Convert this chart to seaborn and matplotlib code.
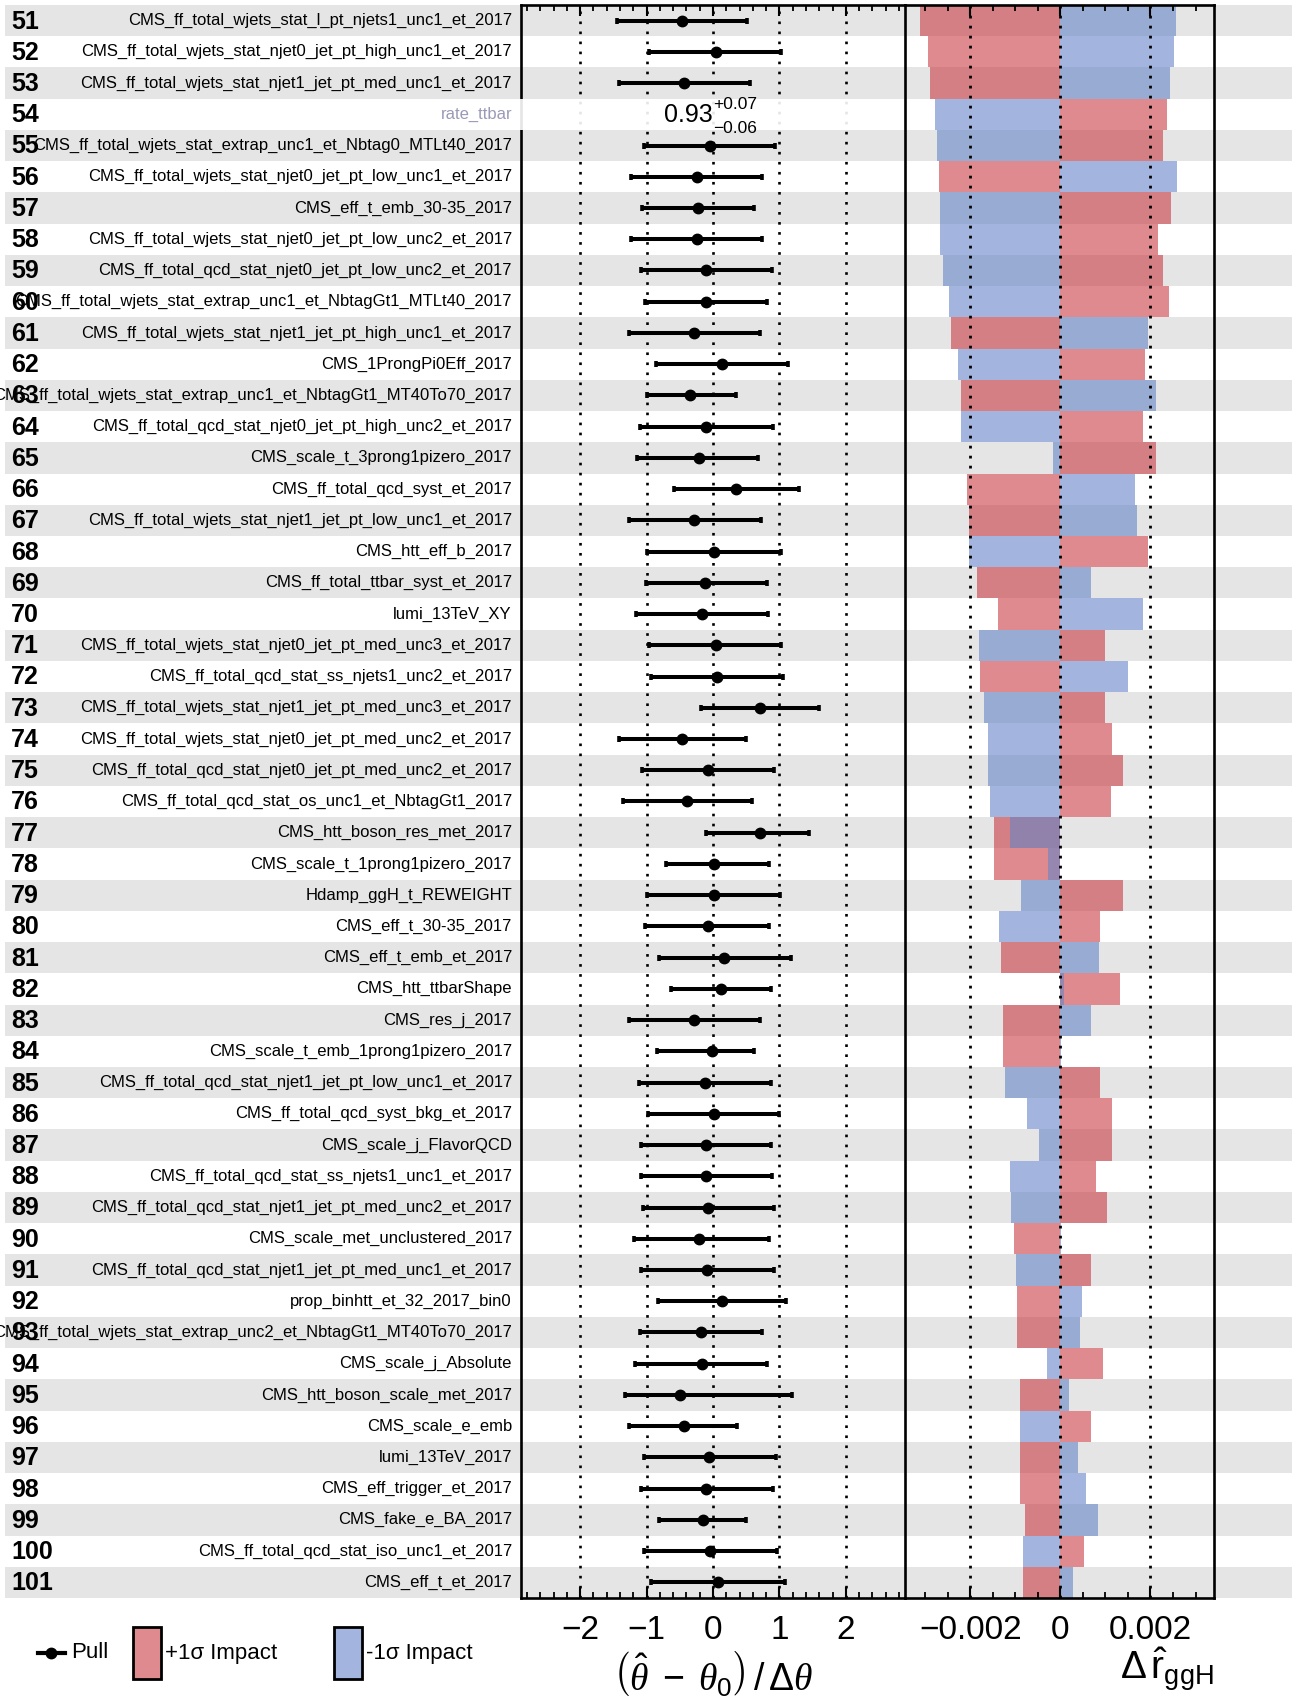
import numpy as np
import pandas as pd
import matplotlib
matplotlib.use("Agg")
import matplotlib.pyplot as plt
import seaborn as sns
from matplotlib.patches import Rectangle
from matplotlib.lines import Line2D
from matplotlib.ticker import MultipleLocator, FixedLocator, FixedFormatter

# ---------------- data ----------------
rank = list(range(51, 102))
params = [
    "CMS_ff_total_wjets_stat_l_pt_njets1_unc1_et_2017",
    "CMS_ff_total_wjets_stat_njet0_jet_pt_high_unc1_et_2017",
    "CMS_ff_total_wjets_stat_njet1_jet_pt_med_unc1_et_2017",
    "rate_ttbar",
    "CMS_ff_total_wjets_stat_extrap_unc1_et_Nbtag0_MTLt40_2017",
    "CMS_ff_total_wjets_stat_njet0_jet_pt_low_unc1_et_2017",
    "CMS_eff_t_emb_30-35_2017",
    "CMS_ff_total_wjets_stat_njet0_jet_pt_low_unc2_et_2017",
    "CMS_ff_total_qcd_stat_njet0_jet_pt_low_unc2_et_2017",
    "CMS_ff_total_wjets_stat_extrap_unc1_et_NbtagGt1_MTLt40_2017",
    "CMS_ff_total_wjets_stat_njet1_jet_pt_high_unc1_et_2017",
    "CMS_1ProngPi0Eff_2017",
    "CMS_ff_total_wjets_stat_extrap_unc1_et_NbtagGt1_MT40To70_2017",
    "CMS_ff_total_qcd_stat_njet0_jet_pt_high_unc2_et_2017",
    "CMS_scale_t_3prong1pizero_2017",
    "CMS_ff_total_qcd_syst_et_2017",
    "CMS_ff_total_wjets_stat_njet1_jet_pt_low_unc1_et_2017",
    "CMS_htt_eff_b_2017",
    "CMS_ff_total_ttbar_syst_et_2017",
    "lumi_13TeV_XY",
    "CMS_ff_total_wjets_stat_njet0_jet_pt_med_unc3_et_2017",
    "CMS_ff_total_qcd_stat_ss_njets1_unc2_et_2017",
    "CMS_ff_total_wjets_stat_njet1_jet_pt_med_unc3_et_2017",
    "CMS_ff_total_wjets_stat_njet0_jet_pt_med_unc2_et_2017",
    "CMS_ff_total_qcd_stat_njet0_jet_pt_med_unc2_et_2017",
    "CMS_ff_total_qcd_stat_os_unc1_et_NbtagGt1_2017",
    "CMS_htt_boson_res_met_2017",
    "CMS_scale_t_1prong1pizero_2017",
    "Hdamp_ggH_t_REWEIGHT",
    "CMS_eff_t_30-35_2017",
    "CMS_eff_t_emb_et_2017",
    "CMS_htt_ttbarShape",
    "CMS_res_j_2017",
    "CMS_scale_t_emb_1prong1pizero_2017",
    "CMS_ff_total_qcd_stat_njet1_jet_pt_low_unc1_et_2017",
    "CMS_ff_total_qcd_syst_bkg_et_2017",
    "CMS_scale_j_FlavorQCD",
    "CMS_ff_total_qcd_stat_ss_njets1_unc1_et_2017",
    "CMS_ff_total_qcd_stat_njet1_jet_pt_med_unc2_et_2017",
    "CMS_scale_met_unclustered_2017",
    "CMS_ff_total_qcd_stat_njet1_jet_pt_med_unc1_et_2017",
    "prop_binhtt_et_32_2017_bin0",
    "CMS_ff_total_wjets_stat_extrap_unc2_et_NbtagGt1_MT40To70_2017",
    "CMS_scale_j_Absolute",
    "CMS_htt_boson_scale_met_2017",
    "CMS_scale_e_emb",
    "lumi_13TeV_2017",
    "CMS_eff_trigger_et_2017",
    "CMS_fake_e_BA_2017",
    "CMS_ff_total_qcd_stat_iso_unc1_et_2017",
    "CMS_eff_t_et_2017",
]
pull = [-0.47, 0.04, -0.44, np.nan, -0.05, -0.24, -0.23, -0.24, -0.10, -0.10,
        -0.28, 0.13, -0.34, -0.10, -0.21, 0.34, -0.28, 0.02, -0.12, -0.16,
        0.04, 0.06, 0.71, -0.47, -0.07, -0.39, 0.71, 0.02, 0.01, -0.08,
        0.17, 0.12, -0.28, -0.02, -0.12, 0.01, -0.10, -0.10, -0.07, -0.21,
        -0.09, 0.13, -0.18, -0.16, -0.49, -0.44, -0.06, -0.10, -0.15, -0.05,
        0.08]
pull_err_lo = [0.97, 1.01, 0.97, np.nan, 0.99, 0.99, 0.84, 0.99, 0.99, 0.92,
               0.99, 0.99, 0.65, 1.00, 0.94, 0.92, 0.99, 1.02, 0.89, 1.00,
               1.01, 0.99, 0.89, 0.95, 1.00, 0.96, 0.82, 0.72, 1.01, 0.95,
               0.98, 0.75, 0.98, 0.83, 1.00, 0.99, 0.99, 0.99, 0.99, 0.98,
               0.99, 0.96, 0.92, 1.01, 0.83, 0.83, 0.98, 0.99, 0.66, 0.99,
               1.01]
pull_err_hi = [0.98, 0.99, 0.99, np.nan, 0.98, 0.98, 0.85, 0.98, 0.99, 0.91,
               0.98, 1.00, 0.68, 1.00, 0.88, 0.96, 1.00, 1.01, 0.94, 0.99,
               0.99, 0.99, 0.89, 0.97, 0.99, 0.97, 0.74, 0.82, 1.00, 0.93,
               1.00, 0.75, 0.99, 0.63, 0.99, 0.99, 0.98, 0.99, 0.99, 1.06,
               1.01, 0.97, 0.92, 0.98, 1.68, 0.80, 1.01, 1.01, 0.65, 1.01,
               1.01]
impact_up = [-0.00311, -0.00293, -0.00289, 0.00236, 0.00227, -0.00269, 0.00246, 0.00216, 0.00227, 0.00241,
             -0.00242, 0.00187, -0.00220, 0.00184, 0.00213, -0.00207, -0.00204, 0.00195, -0.00185, -0.00139,
             0.00099, -0.00179, 0.00100, 0.00115, 0.00139, 0.00113, -0.00148, -0.00148, 0.00139, 0.00089,
             -0.00132, 0.00133, -0.00128, -0.00128, 0.00087, 0.00114, 0.00114, 0.00078, 0.00103, -0.00103,
             0.00069, -0.00096, -0.00096, 0.00094, -0.00090, 0.00069, -0.00090, -0.00090, -0.00079, 0.00052,
             -0.00083]
impact_down = [0.00256, 0.00252, 0.00243, -0.00278, -0.00273, 0.00258, -0.00267, -0.00267, -0.00260, -0.00247,
               0.00195, -0.00227, 0.00213, -0.00220, -0.00016, 0.00165, 0.00169, -0.00202, 0.00067, 0.00184,
               -0.00181, 0.00149, -0.00170, -0.00161, -0.00161, -0.00157, -0.00112, -0.00027, -0.00088, -0.00137,
               0.00085, 0.00009, 0.00069, 0.00001, -0.00123, -0.00074, -0.00048, -0.00112, -0.00110, 0.00002,
               -0.00099, 0.00047, 0.00043, -0.00030, 0.00018, -0.00090, 0.00040, 0.00056, 0.00084, -0.00083,
               0.00029]
poi_row = "rate_ttbar"
poi_value, poi_up, poi_dn = "0.93", "+0.07", "\u22120.06"

pull_ticks = [-2, -1, 0, 1, 2]
pull_ticklabels = ["\u22122", "\u22121", "0", "1", "2"]
impact_ticks = [-0.002, 0.0, 0.002]
impact_ticklabels = ["\u22120.002", "0", "0.002"]

# ---------------- style ----------------
FONT = ["Liberation Sans", "DejaVu Sans"]
plt.rcParams["font.family"] = FONT
plt.rcParams["mathtext.fontset"] = "custom"
plt.rcParams["mathtext.rm"] = "Liberation Sans"
plt.rcParams["mathtext.it"] = "Liberation Serif:italic"
plt.rcParams["mathtext.bf"] = "Liberation Sans:bold"
plt.rcParams["axes.unicode_minus"] = True

RED = (200/255, 60/255, 67/255)
BLUE = (102/255, 133/255, 200/255)
ALPHA = 0.6
GRAY = "#e5e5e5"

W, H = 1292, 1704
fig = plt.figure(figsize=(W/100, H/100), dpi=100)

n = len(params)
ax_top, ax_bot = 5, 1598
fy0 = (H - ax_bot) / H
fh = (ax_bot - ax_top) / H

# background bands spanning the figure
bg = fig.add_axes([5/W, fy0, 1 - 5/W, fh], zorder=-5)
bg.set_xlim(0, 1)
bg.set_ylim(n - 0.5, -0.5)
bg.axis("off")
for i in range(n):
    if i % 2 == 0:
        bg.axhspan(i - 0.5, i + 0.5, color=GRAY, lw=0)

# labels
lab_x = (512 - 5) / (W - 5)
num_x = (11 - 5) / (W - 5)
for i, (r, p) in enumerate(zip(rank, params)):
    bg.text(num_x, i + 0.03, str(r), ha="left", va="center", fontsize=18,
            fontweight="bold", color="black")
    col = "#9a9ab8" if p == poi_row else "black"
    bg.text(lab_x, i, p, ha="right", va="center", fontsize=12.0, color=col)

# ---------------- pull panel ----------------
axp = fig.add_axes([521/W, fy0, (905-521)/W, fh])
axp.set_facecolor("none")
ypos = np.arange(n)
pv = np.array(pull, dtype=float)
lo = np.array(pull_err_lo, dtype=float)
hi = np.array(pull_err_hi, dtype=float)
ok = ~np.isnan(pv)
axp.errorbar(pv[ok], ypos[ok], xerr=[lo[ok], hi[ok]], fmt="o", color="black",
             ms=7.5, lw=2.9, capsize=2.3, capthick=2.6, zorder=4)
for t in pull_ticks:
    axp.axvline(t, color="black", lw=1.9, ls=(0, (1, 2.8)), zorder=2)
axp.set_xlim(-2.89, 2.89)
axp.set_ylim(n - 0.5, -0.5)
axp.set_yticks([])
axp.xaxis.set_major_locator(FixedLocator(pull_ticks))
axp.xaxis.set_major_formatter(FixedFormatter(pull_ticklabels))
axp.xaxis.set_minor_locator(MultipleLocator(0.2))
axp.tick_params(axis="x", which="both", direction="in", top=True, bottom=True,
                labelsize=24, pad=12)
axp.tick_params(axis="x", which="major", length=8, width=1.5)
axp.tick_params(axis="x", which="minor", length=4, width=1.3)
for s in axp.spines.values():
    s.set_linewidth(1.9)
axp.set_xlabel(r"$\left(\hat{\theta}\ -\ \theta_{0}\right)\,/\,\Delta\theta$",
               fontsize=27, labelpad=3)

# POI row: white box + value text
ip = params.index(poi_row)
axp.add_patch(Rectangle((-2.965, ip - 0.5), 5.78, 1.0, facecolor="white",
                        edgecolor="none", alpha=0.9, zorder=5, clip_on=False))
axp.text(0.0, ip + 0.02, poi_value, ha="right", va="center", fontsize=18, zorder=6)
axp.text(0.0, ip - 0.32, poi_up, ha="left", va="center", fontsize=12.5, zorder=6)
axp.text(0.0, ip + 0.44, poi_dn, ha="left", va="center", fontsize=12.5, zorder=6)

# ---------------- impact panel ----------------
axi = fig.add_axes([905/W, fy0, (1214-905)/W, fh])
axi.set_facecolor("none")
df = pd.DataFrame({"param": params, "up": impact_up, "down": impact_down})
sns.barplot(data=df, x="up", y="param", order=params, orient="h", ax=axi,
            color=RED, alpha=ALPHA, saturation=1, width=1.0, errorbar=None,
            linewidth=0)
sns.barplot(data=df, x="down", y="param", order=params, orient="h", ax=axi,
            color=BLUE, alpha=ALPHA, saturation=1, width=1.0, errorbar=None,
            linewidth=0)
for t in impact_ticks:
    axi.axvline(t, color="black", lw=2.0, ls=(0, (1, 2.6)), zorder=3)
axi.set_xlim(-0.00345, 0.00341)
axi.set_ylim(n - 0.5, -0.5)
axi.set_yticks([])
axi.set_ylabel("")
axi.xaxis.set_major_locator(FixedLocator(impact_ticks))
axi.xaxis.set_major_formatter(FixedFormatter(impact_ticklabels))
axi.xaxis.set_minor_locator(MultipleLocator(0.0005))
axi.tick_params(axis="x", which="both", direction="in", top=True, bottom=True,
                labelsize=24, pad=12)
axi.tick_params(axis="x", which="major", length=8, width=1.5)
axi.tick_params(axis="x", which="minor", length=4, width=1.3)
for k, s in axi.spines.items():
    s.set_linewidth(1.9)
axi.spines["left"].set_visible(False)
axi.set_xlabel(r"$\Delta\,\hat{\mathrm{r}}_{\mathrm{ggH}}$", fontsize=28,
               loc="right", labelpad=0)

# ---------------- legend ----------------
def fx(px):
    return px / W

def fyy(py):
    return (H - py) / H

ly = 1653
fig.add_artist(Line2D([fx(38), fx(65)], [fyy(ly), fyy(ly)], color="black", lw=3))
fig.add_artist(Line2D([fx(51)], [fyy(ly)], marker="o", color="black", ms=7.5))
fig.text(fx(71), fyy(ly), "Pull", ha="left", va="center", fontsize=16)
fig.add_artist(Rectangle((fx(133), fyy(1679)), fx(28), 52/H, transform=fig.transFigure,
                         facecolor=RED + (ALPHA,), edgecolor="black", lw=2))
fig.text(fx(165), fyy(ly), "+1\u03c3 Impact", ha="left", va="center", fontsize=16)
fig.add_artist(Rectangle((fx(334), fyy(1679)), fx(28), 52/H, transform=fig.transFigure,
                         facecolor=BLUE + (ALPHA,), edgecolor="black", lw=2))
fig.text(fx(366), fyy(ly), "-1\u03c3 Impact", ha="left", va="center", fontsize=16)

fig.savefig("out.png", dpi=100)
